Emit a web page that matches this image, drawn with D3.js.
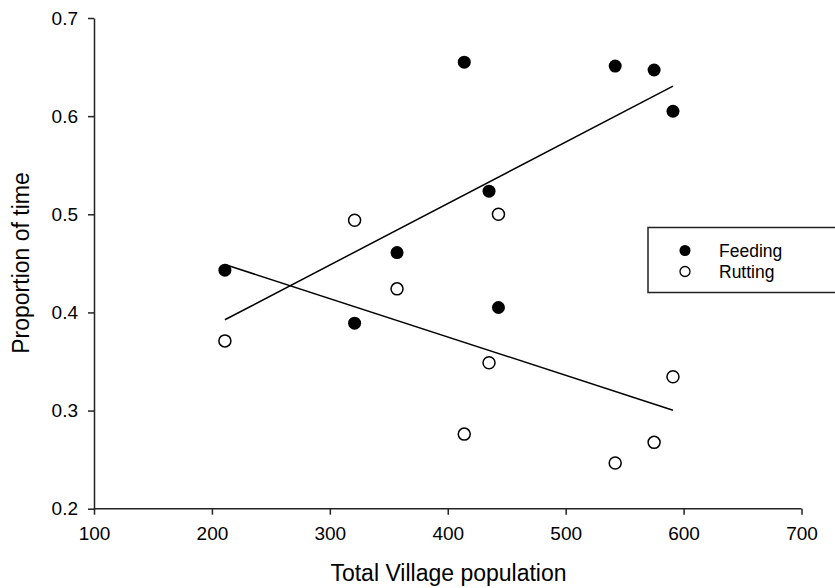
<!DOCTYPE html>
<html>
<head>
<meta charset="utf-8">
<script src="https://cdn.jsdelivr.net/npm/d3@7"></script>
<style>
  html, body { margin: 0; padding: 0; background: #fff; }
  svg { display: block; font-family: "Liberation Sans", Arial, Helvetica, sans-serif; }
</style>
</head>
<body>
<svg id="chart" width="835" height="588"></svg>
<script>
// ---- data ----
const population = [211, 321, 357, 414, 435, 443, 542, 575, 591];
const feeding    = [0.443, 0.389, 0.461, 0.655, 0.5235, 0.405, 0.651, 0.647, 0.605];
const rutting    = [0.371, 0.494, 0.424, 0.276, 0.3487, 0.500, 0.2465, 0.2676, 0.3344];
const seriesNames = ["Feeding", "Rutting"];
const xTicks = [100, 200, 300, 400, 500, 600, 700];
const yTicks = [0.2, 0.3, 0.4, 0.5, 0.6, 0.7];
const xTitle = "Total Village population";
const yTitle = "Proportion of time";

// ---- layout ----
const svg = d3.select("#chart");
const x = d3.scaleLinear().domain([100, 700]).range([94, 801.5]);
const y = d3.scaleLinear().domain([0.2, 0.7]).range([508.7, 18]);

// least squares fit
function fit(xs, ys) {
  const mx = d3.mean(xs), my = d3.mean(ys);
  let sxy = 0, sxx = 0;
  xs.forEach((v, i) => { sxy += (v - mx) * (ys[i] - my); sxx += (v - mx) * (v - mx); });
  const b = sxy / sxx, a = my - b * mx;
  return v => a + b * v;
}

// axes
const xAxis = svg.append("g")
  .attr("transform", `translate(0,${y(0.2)})`)
  .call(d3.axisBottom(x).tickValues(xTicks).tickFormat(d3.format("d")).tickSize(6).tickPadding(12).tickSizeOuter(0));
const yAxis = svg.append("g")
  .attr("transform", `translate(${x(100)},0)`)
  .call(d3.axisLeft(y).tickValues(yTicks).tickFormat(d3.format(".1f")).tickSize(6).tickPadding(10).tickSizeOuter(0));
[xAxis, yAxis].forEach(g => {
  g.selectAll(".domain").attr("stroke", "#222").attr("stroke-width", 1.5);
  g.selectAll(".tick line").attr("stroke", "#222").attr("stroke-width", 1.5);
  g.selectAll(".tick text").attr("fill", "#000").style("font-size", "19px")
    .style("font-family", '"Liberation Sans", Arial, sans-serif');
});
xAxis.select(".domain").attr("d", `M${x(100)},0H${x(700)}`);

// titles
svg.append("text").attr("x", 448.5).attr("y", 581).attr("text-anchor", "middle")
  .style("font-size", "23px").attr("fill", "#000").text(xTitle);
svg.append("text").attr("transform", "translate(29,263) rotate(-90)").attr("text-anchor", "middle")
  .style("font-size", "23px").attr("fill", "#000").text(yTitle);

// regression lines
const series = [feeding, rutting];
const xr = d3.extent(population);
series.forEach(s => {
  const f = fit(population, s);
  svg.append("line")
    .attr("x1", x(xr[0])).attr("y1", y(f(xr[0])))
    .attr("x2", x(xr[1])).attr("y2", y(f(xr[1])))
    .attr("stroke", "#000").attr("stroke-width", 1.5);
});

// points
svg.append("g").selectAll("circle").data(population).join("circle")
  .attr("cx", d => x(d)).attr("cy", (d, i) => y(rutting[i])).attr("r", 6)
  .attr("fill", "#fff").attr("stroke", "#000").attr("stroke-width", 1.5);
svg.append("g").selectAll("circle").data(population).join("circle")
  .attr("cx", d => x(d)).attr("cy", (d, i) => y(feeding[i])).attr("r", 6.5)
  .attr("fill", "#000");

// legend
const lg = svg.append("g");
lg.append("rect").attr("x", 648).attr("y", 227.5).attr("width", 200).attr("height", 65)
  .attr("fill", "#fff").attr("stroke", "#222").attr("stroke-width", 1.5);
seriesNames.forEach((n, i) => {
  const cy = 250.5 + i * 21;
  lg.append("circle").attr("cx", 685).attr("cy", cy).attr("r", i === 0 ? 5.5 : 5)
    .attr("fill", i === 0 ? "#000" : "#fff").attr("stroke", "#000").attr("stroke-width", i === 0 ? 0 : 1.3);
  lg.append("text").attr("x", 719).attr("y", cy + 6).style("font-size", "17.5px").attr("fill", "#000").text(n);
});
</script>
</body>
</html>
